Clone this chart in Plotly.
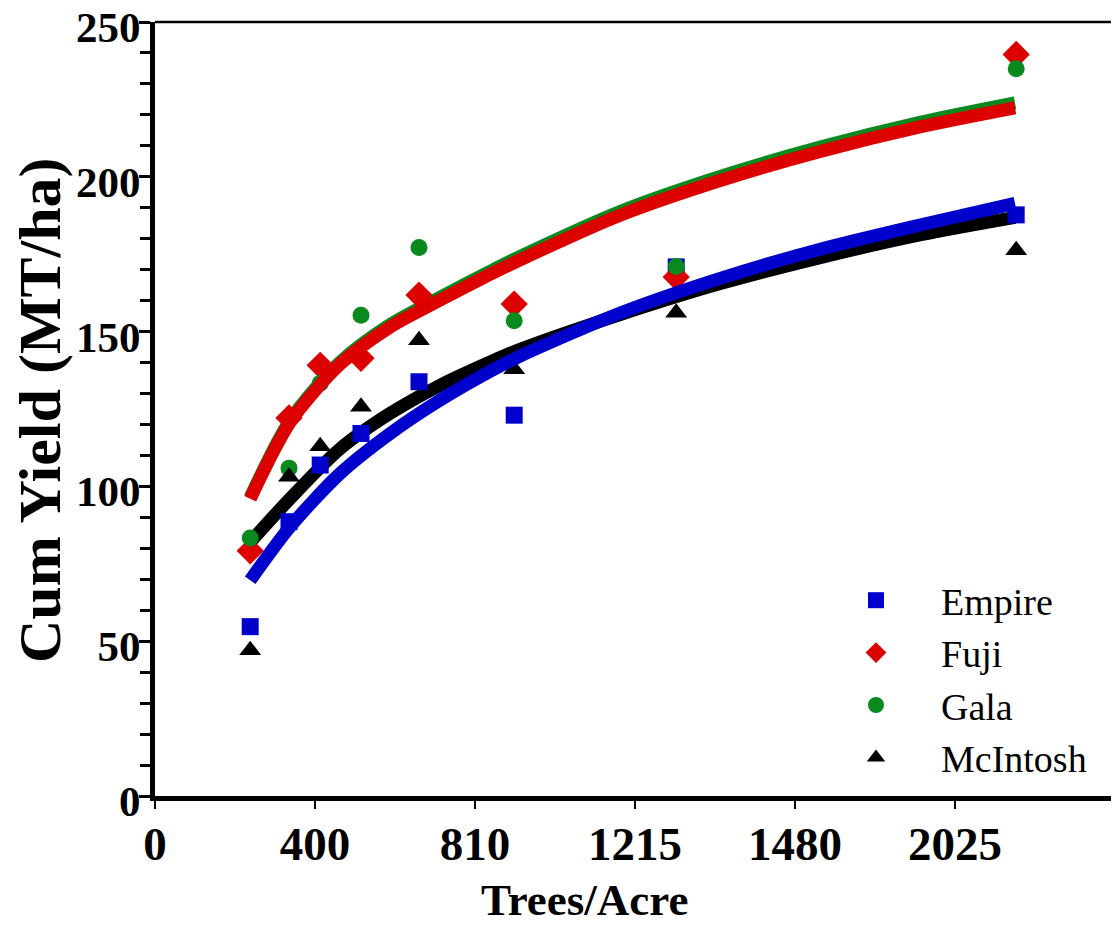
import plotly.graph_objects as go

# ---- data ----
density = [238, 335, 413, 515, 660, 898, 1303, 2153]
empire = [54.7, 88.6, 106.9, 117.1, 133.8, 123.0, 170.9, 187.7]
fuji = [79.2, 122.1, 139.1, 141.4, 161.8, 158.9, 167.6, 239.5]
gala = [83.3, 105.9, 133.3, 155.3, 177.2, 153.5, 171.0, 234.9]
mcintosh = [47.1, 103.1, 113.0, 125.7, 147.2, 137.8, 156.1, 176.3]

fit_x = [238, 338, 463, 588, 713, 838, 913, 1163, 1413, 1663, 1915, 2150]
empire_fit = [69.7, 87.0, 104.2, 117.1, 127.9, 137.2, 142.1, 156.0, 167.2, 176.6, 184.5, 191.4]
fuji_fit = [96.0, 120.8, 139.5, 151.5, 160.2, 168.5, 173.2, 187.6, 198.8, 208.2, 216.2, 222.3]
gala_fit = [96.5, 121.4, 140.2, 152.3, 161.1, 169.5, 174.3, 188.8, 200.1, 209.6, 217.7, 223.9]
mcintosh_fit = [82.0, 96.1, 112.2, 123.6, 132.7, 140.2, 144.3, 155.5, 165.5, 173.9, 181.3, 186.9]

x_tickvals = [0, 400, 800, 1200, 1600, 2000, 2400]
x_ticktext = ["0", "400", "810", "1215", "1480", "2025", ""]
y_tickvals = [0, 50, 100, 150, 200, 250]

BLUE = "#0000CC"
RED = "#DD0000"
GREEN = "#0A8A1E"
BLACK = "#000000"
FONT = "Liberation Serif"

# page body has an 8px margin: figure is drawn 8px right/down of the window corner
PAD = 8
PLOT_L, PLOT_R, PLOT_T, PLOT_B = 155, 1115, 22, 796  # plot area in window pixels
PW, PH = PLOT_R - PLOT_L, PLOT_B - PLOT_T


def px(xw):
    return (xw - PLOT_L) / PW


def py(yw):
    return (PLOT_B - yw) / PH


fig = go.Figure()


def fit_line(x, y, color, name):
    return go.Scatter(x=x, y=y, mode="lines", line=dict(color=color, width=13, shape="spline", smoothing=0.8),
                      showlegend=False, name=name, hoverinfo="skip")


fig.add_trace(fit_line(fit_x, mcintosh_fit, BLACK, "McIntosh fit"))
fig.add_trace(fit_line(fit_x, gala_fit, GREEN, "Gala fit"))

fig.add_trace(go.Scatter(x=density, y=empire, mode="markers", name="Empire",
                         marker=dict(symbol="square", size=17, color=BLUE)))
fig.add_trace(go.Scatter(x=density, y=fuji, mode="markers", name="Fuji",
                         marker=dict(symbol="diamond", size=21, color=RED)))
fig.add_trace(go.Scatter(x=density, y=gala, mode="markers", name="Gala",
                         marker=dict(symbol="circle", size=17, color=GREEN)))
fig.add_trace(go.Scatter(x=density, y=mcintosh, mode="markers", name="McIntosh",
                         marker=dict(symbol="triangle-up", size=19, color=BLACK)))

fig.add_trace(fit_line(fit_x, empire_fit, BLUE, "Empire fit"))
fig.add_trace(fit_line(fit_x, fuji_fit, RED, "Fuji fit"))

fig.update_layout(
    width=1119 - PAD, height=926 - PAD, autosize=False,
    margin=dict(l=PLOT_L - PAD, r=1119 - PLOT_R, t=PLOT_T - PAD, b=926 - PLOT_B, autoexpand=False),
    paper_bgcolor="white", plot_bgcolor="white",
    font=dict(family=FONT, color="black"),
    showlegend=True,
    legend=dict(x=px(811), y=py(569), xanchor="left", yanchor="top",
                bgcolor="rgba(0,0,0,0)", borderwidth=0,
                font=dict(family=FONT, size=38, color="black"),
                itemwidth=120),
    xaxis=dict(range=[0, 2400], tickmode="array", tickvals=x_tickvals, ticktext=x_ticktext,
               showgrid=False, zeroline=False, showline=True, linecolor="black", linewidth=5,
               ticks="outside", ticklen=8, tickwidth=2, tickcolor="black",
               tickfont=dict(family=FONT, size=47, color="black", weight="bold"),
               ticklabelstandoff=-5, ticklabeloverflow="allow", automargin=False),
    yaxis=dict(range=[0, 250], tickmode="array", tickvals=y_tickvals,
               showgrid=False, zeroline=False, showline=True, linecolor="black", linewidth=5,
               ticks="outside", ticklen=11, tickwidth=3, tickcolor="black",
               tickfont=dict(family=FONT, size=43, color="black", weight="bold"),
               ticklabelstandoff=-10, ticklabelshift=5, ticklabeloverflow="allow", automargin=False,
               minor=dict(dtick=10, ticks="outside", ticklen=10, tickwidth=3, tickcolor="black")),
    shapes=[
        dict(type="line", xref="paper", yref="paper", x0=0, x1=1, y0=1, y1=1,
             line=dict(color="black", width=2.5)),
        dict(type="line", xref="paper", yref="paper", x0=1, x1=1, y0=0, y1=1,
             line=dict(color="black", width=2.5)),
    ],
    annotations=[
        dict(text="Cum Yield (MT/ha)", xref="paper", yref="paper",
             x=px(40), y=py(410), textangle=-90, showarrow=False,
             xanchor="center", yanchor="middle",
             font=dict(family=FONT, size=60, color="black", weight="bold")),
        dict(text="Trees/Acre", xref="paper", yref="paper",
             x=px(584), y=py(900), showarrow=False,
             xanchor="center", yanchor="middle",
             font=dict(family=FONT, size=45, color="black", weight="bold")),
    ],
)

fig.write_html("out.html")
